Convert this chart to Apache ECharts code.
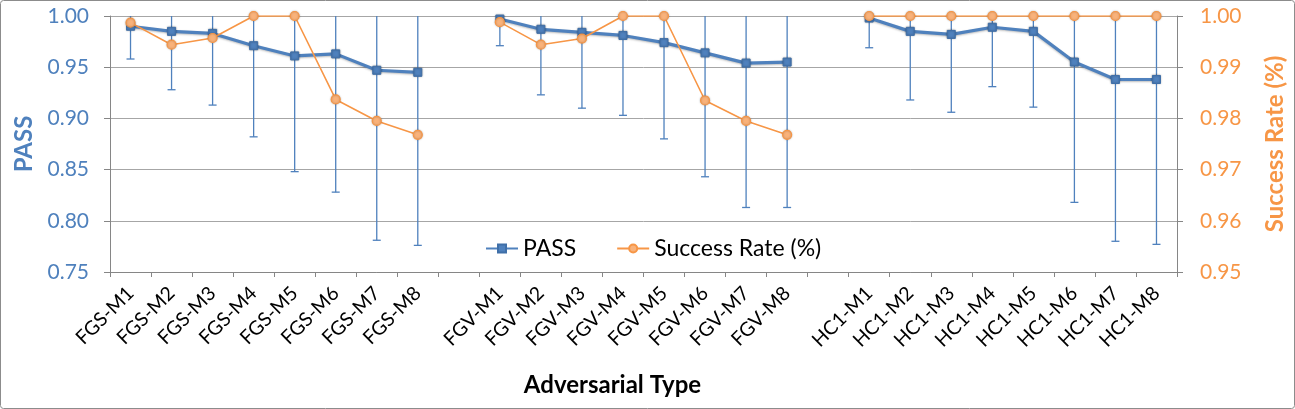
<!DOCTYPE html>
<html><head><meta charset="utf-8">
<script src="https://cdn.jsdelivr.net/npm/echarts@6/dist/echarts.min.js"></script>
<style>html,body{margin:0;padding:0;background:#fff}#c{width:1295px;height:409px}</style>
</head><body><div id="c"></div>
<script>
const categories = ['FGS-M1','FGS-M2','FGS-M3','FGS-M4','FGS-M5','FGS-M6','FGS-M7','FGS-M8','',
  'FGV-M1','FGV-M2','FGV-M3','FGV-M4','FGV-M5','FGV-M6','FGV-M7','FGV-M8','',
  'HC1-M1','HC1-M2','HC1-M3','HC1-M4','HC1-M5','HC1-M6','HC1-M7','HC1-M8'];
const passValues = [0.990,0.985,0.983,0.971,0.961,0.963,0.947,0.945,null,
  0.997,0.987,0.984,0.981,0.974,0.964,0.954,0.955,null,
  0.998,0.985,0.982,0.989,0.985,0.955,0.938,0.938];
const passLower = [0.958,0.928,0.913,0.882,0.848,0.828,0.781,0.776,null,
  0.971,0.923,0.910,0.903,0.880,0.843,0.813,0.813,null,
  0.969,0.918,0.906,0.931,0.911,0.818,0.780,0.777];
const successRate = [0.9987,0.9944,0.9957,1.000,1.000,0.9837,0.9795,0.9768,null,
  0.9988,0.9944,0.9956,1.000,1.000,0.9835,0.9795,0.9768,null,
  1.000,1.000,1.000,1.000,1.000,1.000,1.000,1.000];
const leftTicks = {min:0.75,max:1.0,interval:0.05};
const rightTicks = {min:0.95,max:1.0,interval:0.01};

const BLUE = '#4F81BD', ORANGE = '#F79646';
const FONT = 'Lato, "Open Sans", sans-serif';
const errData = categories.map((c,i)=> passValues[i]==null ? [i,null,null] : [i, passLower[i], passValues[i] + (passValues[i]-passLower[i])]);

const chart = echarts.init(document.getElementById('c'));
chart.setOption({
  animation:false,
  textStyle:{fontFamily:FONT},
  graphic:[{type:'rect',shape:{x:0.5,y:0.5,width:1294,height:408,r:3},style:{fill:'none',stroke:'#8c8c8c',lineWidth:1},z:-1}],
  grid:{left:110,right:113,top:16,bottom:137},
  legend:{left:480,top:232,itemWidth:32,itemHeight:10,itemGap:40,
    textStyle:{fontFamily:FONT,fontSize:23,color:'#000'},
    data:['PASS','Success Rate (%)']},
  xAxis:{type:'category',data:categories,boundaryGap:true,
    name:'Adversarial Type',nameLocation:'middle',nameGap:101,
    nameTextStyle:{fontFamily:FONT,fontSize:24,fontWeight:'bold',color:'#000',padding:[0,62,0,0]},
    axisLine:{lineStyle:{color:'#868686',width:1}},
    axisTick:{show:true,interval:0,length:5,lineStyle:{color:'#868686'}},
    axisLabel:{interval:0,rotate:45,margin:18,fontFamily:FONT,fontSize:19.5,color:'#000'},
    splitLine:{show:false}},
  yAxis:[{type:'value',min:leftTicks.min,max:leftTicks.max,interval:leftTicks.interval,
      name:'PASS',nameLocation:'middle',nameGap:73,
      nameTextStyle:{fontFamily:FONT,fontSize:24,fontWeight:'bold',color:BLUE},
      axisLine:{show:true,lineStyle:{color:'#868686'}},
      axisTick:{show:true,length:6,lineStyle:{color:'#868686'}},
      axisLabel:{margin:21,fontFamily:FONT,fontSize:21,color:BLUE,formatter:v=>v.toFixed(2)},
      splitLine:{show:true,lineStyle:{color:'#a6a6a6',width:1}}},
    {type:'value',min:rightTicks.min,max:rightTicks.max,interval:rightTicks.interval,
      name:'Success Rate (%)',nameLocation:'middle',nameGap:86,nameRotate:90,
      nameTextStyle:{fontFamily:FONT,fontSize:24,fontWeight:'bold',color:ORANGE},
      axisLine:{show:true,lineStyle:{color:'#868686'}},
      axisTick:{show:true,length:6,lineStyle:{color:'#868686'}},
      axisLabel:{margin:23,fontFamily:FONT,fontSize:21,color:ORANGE,formatter:v=>v.toFixed(2)},
      splitLine:{show:false}}],
  series:[
    {type:'custom',name:'err',yAxisIndex:0,z:1,silent:true,
      renderItem:function(params,api){
        const lo = api.value(1), hi = api.value(2);
        if (lo==null || isNaN(lo)) return;
        const x = api.value(0);
        const pLo = api.coord([x, lo]);
        const pHi = api.coord([x, Math.min(hi, leftTicks.max)]);
        const st = {stroke:BLUE,lineWidth:1.3};
        return {type:'group',children:[
          {type:'line',shape:{x1:pLo[0],y1:pLo[1],x2:pHi[0],y2:pHi[1]},style:st},
          {type:'line',shape:{x1:pLo[0]-4,y1:pLo[1],x2:pLo[0]+4,y2:pLo[1]},style:st}
        ]};
      },
      encode:{x:0,y:[1,2]},data:errData},
    {type:'line',name:'PASS',yAxisIndex:0,data:passValues,z:3,
      symbol:'rect',symbolSize:8,connectNulls:false,
      lineStyle:{color:BLUE,width:3.2,shadowBlur:2,shadowColor:'rgba(0,0,0,0.25)',shadowOffsetY:1},
      itemStyle:{color:BLUE,borderColor:'#3f6fa8',borderWidth:1,shadowBlur:2,shadowColor:'rgba(0,0,0,0.3)'}},
    {type:'line',name:'Success Rate (%)',yAxisIndex:1,data:successRate,z:4,
      symbol:'circle',symbolSize:9,connectNulls:false,
      lineStyle:{color:ORANGE,width:1.6},
      itemStyle:{color:'#F9B27A',borderColor:ORANGE,borderWidth:1.2,shadowBlur:2,shadowColor:'rgba(0,0,0,0.25)'}}
  ]
});
</script></body></html>
